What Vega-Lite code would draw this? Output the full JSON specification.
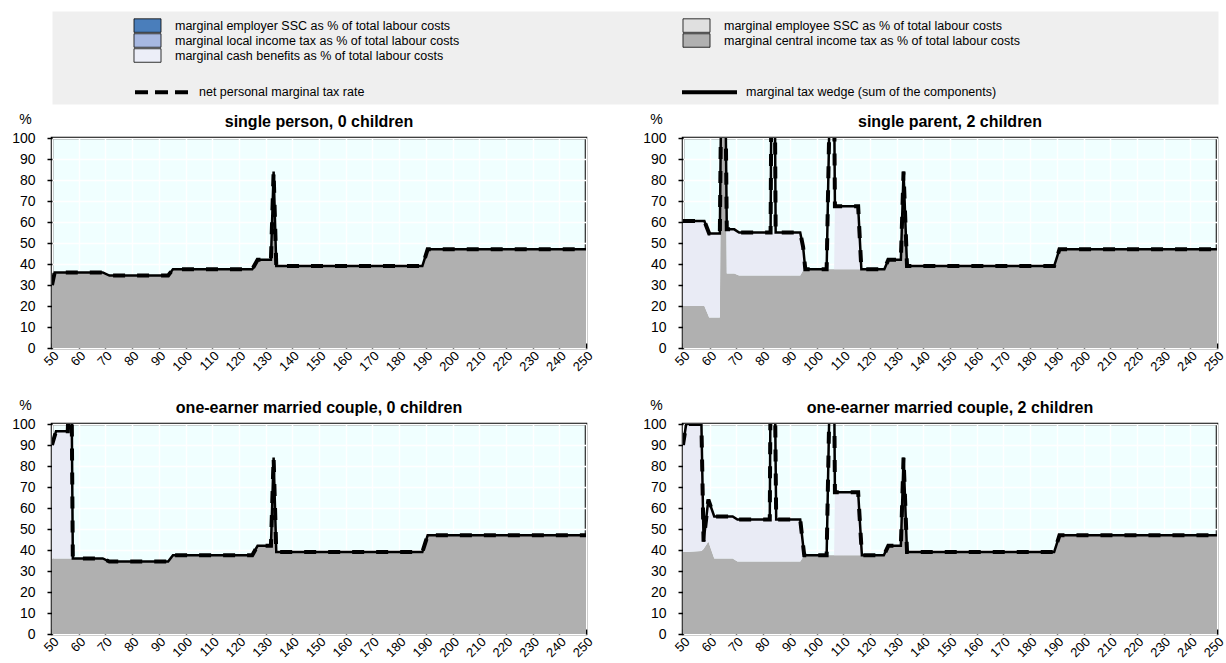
{
  "$schema": "https://vega.github.io/schema/vega-lite/v6.json",
  "padding": {"left": 10, "top": 10, "right": 0, "bottom": 4},
  "bounds": "flush",
  "spacing": 34,
  "resolve": {
    "scale": {"fill": "independent", "strokeDash": "independent"},
    "legend": {"fill": "independent", "strokeDash": "independent"}
  },
  "config": {
    "font": "Liberation Sans",
    "view": {"fill": "#f0ffff", "stroke": "#000", "strokeWidth": 2.5},
    "axis": {"grid": true, "gridColor": "#ffffff", "gridOpacity": 1, "gridWidth": 1.5, "domain": false, "labelColor": "#000", "labelFontSize": 14, "labelOverlap": false, "labelFlush": false, "tickColor": "#000", "tickWidth": 1.5},
    "axisX": {"tickCount": 20, "labelAngle": -45, "labelBaseline": "top", "labelAlign": "right", "tickSize": -5, "labelPadding": 6, "labelFontSize": 13},
    "axisY": {"tickCount": 10, "tickSize": 5, "labelPadding": 12, "titleAngle": 0, "titleAlign": "center", "titleBaseline": "middle", "titleX": -27, "titleY": -19, "titleFontWeight": "normal", "titleFontSize": 14, "titleColor": "#000"},
    "legend": {"labelFontSize": 12.5, "labelColor": "#000", "labelLimit": 0, "padding": 0, "title": null}
  },
  "vconcat": [
    {
      "width": 1166,
      "height": 93,
      "view": {"fill": "#efefef", "stroke": "transparent"},
      "layer": [
        {
          "data": {"values": [
            {"item": "marginal employer SSC as % of total labour costs"},
            {"item": "marginal employee SSC as % of total labour costs"},
            {"item": "marginal local income tax as % of total labour costs"},
            {"item": "marginal central income tax as % of total labour costs"},
            {"item": "marginal cash benefits as % of total labour costs"}
          ]},
          "mark": {"type": "rect", "opacity": 0},
          "encoding": {
            "fill": {
              "field": "item", "type": "nominal",
              "scale": {
                "domain": [
                  "marginal employer SSC as % of total labour costs",
                  "marginal local income tax as % of total labour costs",
                  "marginal cash benefits as % of total labour costs",
                  "marginal employee SSC as % of total labour costs",
                  "marginal central income tax as % of total labour costs"
                ],
                "range": ["#4a7ebb", "#a7b8e1", "#eceef8", "#e0e0e0", "#b0b0b0"]
              },
              "legend": {
                "orient": "none", "legendX": 89, "legendY": 8, "columns": 2, "columnPadding": 221, "rowPadding": -4,
                "symbolType": "M-2.4,-1.2H2.4V1.2H-2.4Z", "symbolSize": 126.6, "symbolStrokeColor": "#000", "symbolStrokeWidth": 0.8, "symbolOpacity": 1,
                "labelOffset": 21,
                "encode": {"symbols": {"update": {"opacity": {"value": 1}, "stroke": {"value": "#000"}, "strokeWidth": {"value": 0.8}}}}
              }
            }
          }
        },
        {
          "data": {"values": [
            {"line": "net personal marginal tax rate"},
            {"line": "marginal tax wedge (sum of the components)"}
          ]},
          "mark": {"type": "rule", "opacity": 0},
          "encoding": {
            "strokeDash": {
              "field": "line", "type": "nominal",
              "scale": {"domain": ["net personal marginal tax rate", "marginal tax wedge (sum of the components)"], "range": [[13, 7], [1, 0]]},
              "legend": {
                "orient": "none", "legendX": 81, "legendY": 51.5, "columns": 2, "columnPadding": 309,
                "symbolType": "stroke", "symbolSize": 3025, "symbolStrokeColor": "#000", "symbolStrokeWidth": 4, "symbolOpacity": 1,
                "labelOffset": 7,
                "encode": {"symbols": {"update": {"opacity": {"value": 1}, "stroke": {"value": "#000"}, "strokeWidth": {"value": 4}}}}
              }
            }
          }
        }
      ]
    },
    {
      "data": {"values": [
        {"h": "single person, 0 children", "x": 50, "central": 30, "cash": 0, "wedge": 30, "net": 30},
        {"h": "single person, 0 children", "x": 51, "central": 36, "cash": 0, "wedge": 36, "net": 36},
        {"h": "single person, 0 children", "x": 69, "central": 36, "cash": 0, "wedge": 36, "net": 36},
        {"h": "single person, 0 children", "x": 71.5, "central": 34.5, "cash": 0, "wedge": 34.5, "net": 34.5},
        {"h": "single person, 0 children", "x": 93.5, "central": 34.5, "cash": 0, "wedge": 34.5, "net": 34.5},
        {"h": "single person, 0 children", "x": 95.3, "central": 37.5, "cash": 0, "wedge": 37.5, "net": 37.5},
        {"h": "single person, 0 children", "x": 125, "central": 37.5, "cash": 0, "wedge": 37.5, "net": 37.5},
        {"h": "single person, 0 children", "x": 127, "central": 42, "cash": 0, "wedge": 42, "net": 42},
        {"h": "single person, 0 children", "x": 132, "central": 42, "cash": 0, "wedge": 42, "net": 42},
        {"h": "single person, 0 children", "x": 133, "central": 84, "cash": 0, "wedge": 84, "net": 84},
        {"h": "single person, 0 children", "x": 134, "central": 39, "cash": 0, "wedge": 39, "net": 39},
        {"h": "single person, 0 children", "x": 188.7, "central": 39, "cash": 0, "wedge": 39, "net": 39},
        {"h": "single person, 0 children", "x": 190.7, "central": 47, "cash": 0, "wedge": 47, "net": 47},
        {"h": "single person, 0 children", "x": 250, "central": 47, "cash": 0, "wedge": 47, "net": 47},

        {"h": "single parent, 2 children", "x": 50, "central": 20, "cash": 40.5, "wedge": 60.5, "net": 60.5},
        {"h": "single parent, 2 children", "x": 58, "central": 20, "cash": 40.5, "wedge": 60.5, "net": 60.5},
        {"h": "single parent, 2 children", "x": 59.8, "central": 14.5, "cash": 40, "wedge": 54.5, "net": 54.5},
        {"h": "single parent, 2 children", "x": 63.8, "central": 14.5, "cash": 40, "wedge": 54.5, "net": 54.5},
        {"h": "single parent, 2 children", "x": 64.3, "central": 110, "cash": 0, "wedge": 120, "net": 120},
        {"h": "single parent, 2 children", "x": 65.9, "central": 110, "cash": 0, "wedge": 120, "net": 120},
        {"h": "single parent, 2 children", "x": 66.4, "central": 35.5, "cash": 21, "wedge": 56.5, "net": 56.5},
        {"h": "single parent, 2 children", "x": 69.2, "central": 35.5, "cash": 21, "wedge": 56.5, "net": 56.5},
        {"h": "single parent, 2 children", "x": 71, "central": 34.5, "cash": 20.5, "wedge": 55, "net": 55},
        {"h": "single parent, 2 children", "x": 82.8, "central": 34.5, "cash": 20.5, "wedge": 55, "net": 55},
        {"h": "single parent, 2 children", "x": 83.1, "central": 34.5, "cash": 20.5, "wedge": 120, "net": 120},
        {"h": "single parent, 2 children", "x": 84.4, "central": 34.5, "cash": 20.5, "wedge": 120, "net": 120},
        {"h": "single parent, 2 children", "x": 84.7, "central": 34.5, "cash": 20.5, "wedge": 55, "net": 55},
        {"h": "single parent, 2 children", "x": 93.9, "central": 34.5, "cash": 20.5, "wedge": 55, "net": 55},
        {"h": "single parent, 2 children", "x": 95, "central": 37, "cash": 11, "wedge": 48, "net": 48},
        {"h": "single parent, 2 children", "x": 95.8, "central": 37.5, "cash": 0, "wedge": 37.5, "net": 37.5},
        {"h": "single parent, 2 children", "x": 103.8, "central": 37.5, "cash": 0, "wedge": 37.5, "net": 37.5},
        {"h": "single parent, 2 children", "x": 105, "central": 37.5, "cash": 0, "wedge": 120, "net": 120},
        {"h": "single parent, 2 children", "x": 106.6, "central": 37.5, "cash": 0, "wedge": 120, "net": 120},
        {"h": "single parent, 2 children", "x": 106.9, "central": 37.5, "cash": 30, "wedge": 67.5, "net": 67.5},
        {"h": "single parent, 2 children", "x": 115.6, "central": 37.5, "cash": 30, "wedge": 67.5, "net": 67.5},
        {"h": "single parent, 2 children", "x": 116.8, "central": 37.5, "cash": 0, "wedge": 37.5, "net": 37.5},
        {"h": "single parent, 2 children", "x": 125.4, "central": 37.5, "cash": 0, "wedge": 37.5, "net": 37.5},
        {"h": "single parent, 2 children", "x": 126.9, "central": 42, "cash": 0, "wedge": 42, "net": 42},
        {"h": "single parent, 2 children", "x": 131.6, "central": 42, "cash": 0, "wedge": 42, "net": 42},
        {"h": "single parent, 2 children", "x": 132.6, "central": 84, "cash": 0, "wedge": 84, "net": 84},
        {"h": "single parent, 2 children", "x": 133.9, "central": 39, "cash": 0, "wedge": 39, "net": 39},
        {"h": "single parent, 2 children", "x": 189, "central": 39, "cash": 0, "wedge": 39, "net": 39},
        {"h": "single parent, 2 children", "x": 191, "central": 47, "cash": 0, "wedge": 47, "net": 47},
        {"h": "single parent, 2 children", "x": 250, "central": 47, "cash": 0, "wedge": 47, "net": 47},

        {"h": "one-earner married couple, 0 children", "x": 50, "central": 36, "cash": 54, "wedge": 90, "net": 90},
        {"h": "one-earner married couple, 0 children", "x": 51.5, "central": 36, "cash": 60.5, "wedge": 96.5, "net": 96.5},
        {"h": "one-earner married couple, 0 children", "x": 55.9, "central": 36, "cash": 60.5, "wedge": 96.5, "net": 96.5},
        {"h": "one-earner married couple, 0 children", "x": 56.5, "central": 36, "cash": 64, "wedge": 120, "net": 120},
        {"h": "one-earner married couple, 0 children", "x": 57.3, "central": 36, "cash": 64, "wedge": 120, "net": 120},
        {"h": "one-earner married couple, 0 children", "x": 57.8, "central": 36, "cash": 0, "wedge": 36, "net": 36},
        {"h": "one-earner married couple, 0 children", "x": 69, "central": 36, "cash": 0, "wedge": 36, "net": 36},
        {"h": "one-earner married couple, 0 children", "x": 71.5, "central": 34.5, "cash": 0, "wedge": 34.5, "net": 34.5},
        {"h": "one-earner married couple, 0 children", "x": 93.5, "central": 34.5, "cash": 0, "wedge": 34.5, "net": 34.5},
        {"h": "one-earner married couple, 0 children", "x": 95.3, "central": 37.5, "cash": 0, "wedge": 37.5, "net": 37.5},
        {"h": "one-earner married couple, 0 children", "x": 125, "central": 37.5, "cash": 0, "wedge": 37.5, "net": 37.5},
        {"h": "one-earner married couple, 0 children", "x": 127, "central": 42, "cash": 0, "wedge": 42, "net": 42},
        {"h": "one-earner married couple, 0 children", "x": 132, "central": 42, "cash": 0, "wedge": 42, "net": 42},
        {"h": "one-earner married couple, 0 children", "x": 133, "central": 84, "cash": 0, "wedge": 84, "net": 84},
        {"h": "one-earner married couple, 0 children", "x": 134, "central": 39, "cash": 0, "wedge": 39, "net": 39},
        {"h": "one-earner married couple, 0 children", "x": 188.7, "central": 39, "cash": 0, "wedge": 39, "net": 39},
        {"h": "one-earner married couple, 0 children", "x": 190.7, "central": 47, "cash": 0, "wedge": 47, "net": 47},
        {"h": "one-earner married couple, 0 children", "x": 250, "central": 47, "cash": 0, "wedge": 47, "net": 47},

        {"h": "one-earner married couple, 2 children", "x": 50, "central": 39, "cash": 51, "wedge": 90, "net": 90},
        {"h": "one-earner married couple, 2 children", "x": 51.2, "central": 39, "cash": 61, "wedge": 100, "net": 100},
        {"h": "one-earner married couple, 2 children", "x": 56.9, "central": 39.5, "cash": 60.5, "wedge": 100, "net": 100},
        {"h": "one-earner married couple, 2 children", "x": 57.7, "central": 40.5, "cash": 3.5, "wedge": 44, "net": 44},
        {"h": "one-earner married couple, 2 children", "x": 59.5, "central": 44, "cash": 20, "wedge": 64, "net": 64},
        {"h": "one-earner married couple, 2 children", "x": 61.7, "central": 36, "cash": 20, "wedge": 56, "net": 56},
        {"h": "one-earner married couple, 2 children", "x": 68.6, "central": 36, "cash": 20, "wedge": 56, "net": 56},
        {"h": "one-earner married couple, 2 children", "x": 70.4, "central": 34.5, "cash": 20, "wedge": 54.5, "net": 54.5},
        {"h": "one-earner married couple, 2 children", "x": 82.5, "central": 34.5, "cash": 20, "wedge": 54.5, "net": 54.5},
        {"h": "one-earner married couple, 2 children", "x": 82.8, "central": 34.5, "cash": 20, "wedge": 120, "net": 120},
        {"h": "one-earner married couple, 2 children", "x": 84.4, "central": 34.5, "cash": 20, "wedge": 120, "net": 120},
        {"h": "one-earner married couple, 2 children", "x": 84.9, "central": 34.5, "cash": 20, "wedge": 54.5, "net": 54.5},
        {"h": "one-earner married couple, 2 children", "x": 93.9, "central": 34.5, "cash": 20, "wedge": 54.5, "net": 54.5},
        {"h": "one-earner married couple, 2 children", "x": 95.4, "central": 37.5, "cash": 0, "wedge": 37.5, "net": 37.5},
        {"h": "one-earner married couple, 2 children", "x": 103.8, "central": 37.5, "cash": 0, "wedge": 37.5, "net": 37.5},
        {"h": "one-earner married couple, 2 children", "x": 105, "central": 37.5, "cash": 0, "wedge": 120, "net": 120},
        {"h": "one-earner married couple, 2 children", "x": 106.6, "central": 37.5, "cash": 0, "wedge": 120, "net": 120},
        {"h": "one-earner married couple, 2 children", "x": 106.9, "central": 37.5, "cash": 30, "wedge": 67.5, "net": 67.5},
        {"h": "one-earner married couple, 2 children", "x": 115.6, "central": 37.5, "cash": 30, "wedge": 67.5, "net": 67.5},
        {"h": "one-earner married couple, 2 children", "x": 117, "central": 37.5, "cash": 0, "wedge": 37.5, "net": 37.5},
        {"h": "one-earner married couple, 2 children", "x": 125.2, "central": 37.5, "cash": 0, "wedge": 37.5, "net": 37.5},
        {"h": "one-earner married couple, 2 children", "x": 126.9, "central": 42, "cash": 0, "wedge": 42, "net": 42},
        {"h": "one-earner married couple, 2 children", "x": 131.6, "central": 42, "cash": 0, "wedge": 42, "net": 42},
        {"h": "one-earner married couple, 2 children", "x": 132.6, "central": 84, "cash": 0, "wedge": 84, "net": 84},
        {"h": "one-earner married couple, 2 children", "x": 133.9, "central": 39, "cash": 0, "wedge": 39, "net": 39},
        {"h": "one-earner married couple, 2 children", "x": 189, "central": 39, "cash": 0, "wedge": 39, "net": 39},
        {"h": "one-earner married couple, 2 children", "x": 191, "central": 47, "cash": 0, "wedge": 47, "net": 47},
        {"h": "one-earner married couple, 2 children", "x": 250, "central": 47, "cash": 0, "wedge": 47, "net": 47}
      ]},
      "facet": {
        "field": "h", "type": "nominal",
        "sort": ["single person, 0 children", "single parent, 2 children", "one-earner married couple, 0 children", "one-earner married couple, 2 children"],
        "header": {"title": null, "labelFontSize": 16, "labelFontWeight": "bold", "labelColor": "#000", "labelPadding": -18}
      },
      "columns": 2,
      "spacing": {"row": 21, "column": 44},
      "resolve": {"axis": {"x": "independent", "y": "independent"}},
      "spec": {
        "width": 534,
        "height": 210,
        "layer": [
          {
            "transform": [{"fold": ["central", "cash"], "as": ["comp", "val"]}],
            "mark": {"type": "area", "clip": true, "interpolate": "linear"},
            "encoding": {
              "x": {"field": "x", "type": "quantitative", "title": null, "scale": {"domain": [50, 250], "nice": false}},
              "y": {"field": "val", "type": "quantitative", "stack": "zero", "title": "%", "scale": {"domain": [0, 100], "nice": false}},
              "fill": {"field": "comp", "type": "nominal", "scale": {"domain": ["central", "cash"], "range": ["#b0b0b0", "#e9ebf5"]}, "legend": null},
              "order": {"field": "comp", "sort": "descending"}
            }
          },
          {
            "mark": {"type": "line", "clip": true, "color": "#000", "strokeWidth": 2.5},
            "encoding": {
              "x": {"field": "x", "type": "quantitative", "title": null},
              "y": {"field": "wedge", "type": "quantitative", "title": "%"}
            }
          },
          {
            "mark": {"type": "line", "clip": true, "color": "#000", "strokeWidth": 4, "strokeDash": [12, 12]},
            "encoding": {
              "x": {"field": "x", "type": "quantitative", "title": null},
              "y": {"field": "net", "type": "quantitative", "title": "%"}
            }
          }
        ]
      }
    }
  ]
}
